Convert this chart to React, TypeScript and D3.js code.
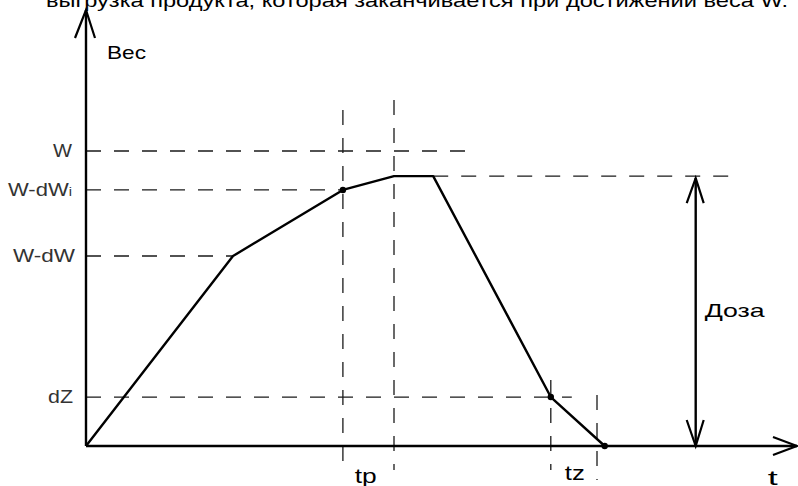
import { scaleLinear, line } from 'd3';

// title (cut off at the top in the original)
const title = 'выгрузка продукта, которая заканчивается при достижении веса W.';

// weight curve: time (abstract units) and weight (% of W)
const curveT = [0, 2.1, 3.67, 4.4, 4.96, 6.64, 7.41];
const curveW = [0, 64.4, 86.8, 91.5, 91.5, 16.6, 0];

// marked points on the curve
const dotT = [3.67, 6.64, 7.41];
const dotW = [86.8, 16.6, 0];

// horizontal reference levels
const levelLabels = ['W', 'W-dW', 'W-dW', 'dZ'];
const levelSub = ['', 'i', '', ''];
const levelW = [100, 86.8, 64.4, 16.6];
const levelEnd = [5.56, 3.67, 2.1, 6.94];

// plateau level extended to the dose arrow
const plateauFrom = 4.96;
const plateauTo = 9.34;
const plateauW = 91.5;

// vertical time markers
const markT = [3.67, 4.4, 6.64, 7.3];
const markTop = [113.9, 117.3, 22.4, 17.3];
const markBottom = [-8.1, -8.1, -8.1, -11.5];

// time labels under the axis
const tLabels = ['tp', 'tz', 't'];
const tLabelT = [3.84, 6.84, 9.74];

const doseT = 8.71;

export default function App() {
  const x = scaleLinear().domain([0, 10]).range([86, 786]);
  const y = scaleLinear().domain([0, 100]).range([446, 151]);

  const pts = curveT.map((t, i) => [x(t), y(curveW[i])] as [number, number]);
  const path = line()(pts) || '';

  const font = '"Liberation Sans", Arial, sans-serif';
  const dash = '15,13';
  const dashColor = '#1a1a1a';

  const x0 = x(0);
  const y0 = y(0);
  const xd = x(doseT);
  const yTop = y(plateauW);

  // label widths measured on the (stretched) original
  const levelWidth = [19, 64, 62, 25];
  const levelLeft = [53, 8, 13, 48];
  const tWidth = [22, 20, 10];
  const tBase = [483, 480, 485];

  return (
    <svg
      width={798}
      height={486}
      style={{ position: 'absolute', left: 0, top: 0, background: '#fff' }}
      fontFamily={font}
    >
      <rect width={798} height={486} fill="#fff" />
      <text x={46} y={7} fontSize={19} textLength={742} lengthAdjust="spacingAndGlyphs" fill="#000">
        {title}
      </text>

      {/* dashed levels */}
      {levelW.map((w, i) => (
        <line
          key={'h' + i}
          x1={x0}
          x2={x(levelEnd[i])}
          y1={y(w)}
          y2={y(w)}
          stroke={dashColor}
          strokeWidth={1.3}
          strokeDasharray={dash}
        />
      ))}
      <line
        x1={x(plateauFrom)}
        x2={x(plateauTo)}
        y1={y(plateauW)}
        y2={y(plateauW)}
        stroke={dashColor}
        strokeWidth={1.3}
        strokeDasharray={dash}
      />
      {markT.map((t, i) => (
        <line
          key={'v' + i}
          x1={x(t)}
          x2={x(t)}
          y1={y(markTop[i])}
          y2={y(markBottom[i])}
          stroke={dashColor}
          strokeWidth={1.3}
          strokeDasharray={dash}
        />
      ))}

      {/* axes */}
      <line x1={x0} x2={x0} y1={10} y2={y0} stroke="#000" strokeWidth={2.4} />
      <line x1={x0} x2={797} y1={y0} y2={y0} stroke="#000" strokeWidth={2.4} />
      <path d={`M${x0 - 11},38L${x0},10L${x0 + 9},38`} fill="none" stroke="#000" strokeWidth={2.2} />
      <path d={`M773,${y0 - 9}L797,${y0}L773,${y0 + 9}`} fill="none" stroke="#000" strokeWidth={2.2} />

      {/* curve */}
      <path d={path} fill="none" stroke="#000" strokeWidth={2.4} strokeLinejoin="round" />
      {dotT.map((t, i) => (
        <circle key={'d' + i} cx={x(t)} cy={y(dotW[i])} r={3.2} fill="#000" />
      ))}

      {/* dose arrow */}
      <line x1={xd} x2={xd} y1={yTop + 2} y2={y0} stroke="#000" strokeWidth={2.4} />
      <path d={`M${xd - 9},${yTop + 27}L${xd},${yTop + 2}L${xd + 8},${yTop + 27}`} fill="none" stroke="#000" strokeWidth={2.2} />
      <path d={`M${xd - 9},${y0 - 26}L${xd},${y0}L${xd + 8},${y0 - 26}`} fill="none" stroke="#000" strokeWidth={2.2} />
      <text x={xd + 9} y={317} fontSize={19} textLength={60} lengthAdjust="spacingAndGlyphs" fill="#000">
        Доза
      </text>

      {/* level labels */}
      {levelLabels.map((s, i) => (
        <text
          key={'l' + i}
          x={levelLeft[i]}
          y={y(levelW[i]) + 6}
          fontSize={18}
          textLength={levelWidth[i]}
          lengthAdjust="spacingAndGlyphs"
          fill="#333"
        >
          {s}
          {levelSub[i] && <tspan fontSize={12}>{levelSub[i]}</tspan>}
        </text>
      ))}

      <text x={107} y={59} fontSize={19} textLength={39} lengthAdjust="spacingAndGlyphs" fill="#000">
        Вес
      </text>

      {tLabels.map((s, i) => (
        <text
          key={'t' + i}
          x={x(tLabelT[i])}
          y={tBase[i]}
          fontSize={20}
          textLength={tWidth[i]}
          lengthAdjust="spacingAndGlyphs"
          fill="#000"
        >
          {s}
        </text>
      ))}
    </svg>
  );
}
